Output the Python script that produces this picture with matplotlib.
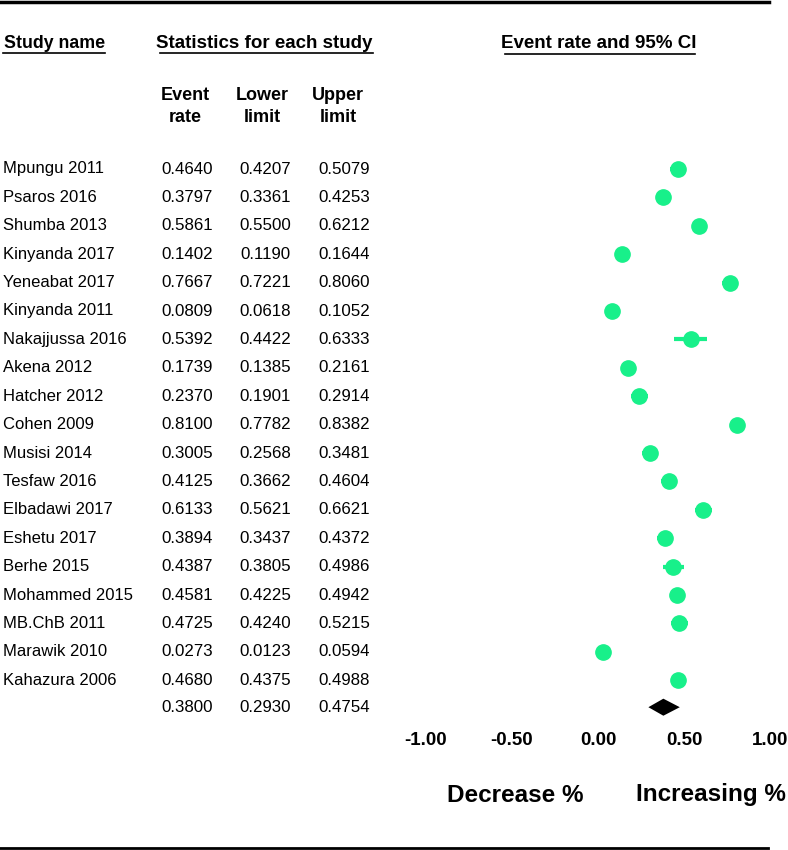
import matplotlib
matplotlib.use('Agg')
import matplotlib.pyplot as plt
import matplotlib.transforms as mtransforms
from matplotlib.lines import Line2D
import numpy as np

# Data
# ----------------------------------------------------------------------------

studies = ['Mpungu 2011', 'Psaros 2016', 'Shumba 2013', 'Kinyanda 2017',
           'Yeneabat 2017', 'Kinyanda 2011', 'Nakajjussa 2016', 'Akena 2012',
           'Hatcher 2012', 'Cohen 2009', 'Musisi 2014', 'Tesfaw 2016',
           'Elbadawi 2017', 'Eshetu 2017', 'Berhe 2015', 'Mohammed 2015',
           'MB.ChB 2011', 'Marawik 2010', 'Kahazura 2006']
rate = np.array([0.4640, 0.3797, 0.5861, 0.1402, 0.7667, 0.0809, 0.5392,
                 0.1739, 0.2370, 0.8100, 0.3005, 0.4125, 0.6133, 0.3894,
                 0.4387, 0.4581, 0.4725, 0.0273, 0.4680])
lower = np.array([0.4207, 0.3361, 0.5500, 0.1190, 0.7221, 0.0618, 0.4422,
                  0.1385, 0.1901, 0.7782, 0.2568, 0.3662, 0.5621, 0.3437,
                  0.3805, 0.4225, 0.4240, 0.0123, 0.4375])
upper = np.array([0.5079, 0.4253, 0.6212, 0.1644, 0.8060, 0.1052, 0.6333,
                  0.2161, 0.2914, 0.8382, 0.3481, 0.4604, 0.6621, 0.4372,
                  0.4986, 0.4942, 0.5215, 0.0594, 0.4988])
pooled = (0.3800, 0.2930, 0.4754)
x_ticks = [-1.00, -0.50, 0.00, 0.50, 1.00]

# Layout (pixels of the 788x850 picture)
# ----------------------------------------------------------------------------

W, H = 788, 850
row0, drow = 169, 28.4          # first study row and row spacing [px]
x0, dx = 598, 172               # pixel of 0.00 and pixels per unit
green = '#18F08A'

plt.rcParams['font.family'] = ['Liberation Sans', 'DejaVu Sans']

fig = plt.figure(figsize=(W / 100, H / 100), dpi=100)
ax = fig.add_axes([400 / W, (H - 725) / H, 388 / W, 725 / H])
ax.set_xlim((400 - x0) / dx, (W - x0) / dx)
ax.set_ylim((725 - row0) / drow, -row0 / drow)

rows = np.arange(len(studies))
pooled_row = rows[-1] + 27 / drow

# forest plot
ax.errorbar(rate, rows, xerr=[rate - lower, upper - rate], fmt='o',
            color=green, ms=11, elinewidth=3, capsize=0)
est, lo, hi = pooled
ax.fill([lo, est, hi, est],
        [pooled_row, pooled_row - 0.3, pooled_row, pooled_row + 0.3],
        color='black', lw=0)

ax.set_xticks(x_ticks, [f'{t:.2f}' for t in x_ticks],
              fontsize=13.5, fontweight='bold')
ax.set_yticks([])
ax.tick_params(axis='x', length=0, pad=5)
for s in ax.spines.values():
    s.set_visible(False)

# table
trans = mtransforms.blended_transform_factory(fig.transFigure, ax.transData)
for i, name in enumerate(studies):
    fig.text(3 / W, i, name, transform=trans, ha='left', va='center',
             fontsize=12)
for i in range(len(studies)):
    for xc, vals in zip([187, 265, 344], [rate, lower, upper]):
        fig.text(xc / W, i, f'{vals[i]:.4f}', transform=trans,
                 ha='center', va='center', fontsize=12.2)
for xc, v in zip([187, 265, 344], pooled):
    fig.text(xc / W, pooled_row, f'{v:.4f}', transform=trans,
             ha='center', va='center', fontsize=12.2)


def ftext(x, y, s, **kw):
    fig.text(x / W, 1 - y / H, s, va='center', **kw)


def hline(x1, x2, y, lw):
    fig.add_artist(Line2D([x1 / W, x2 / W], [1 - y / H, 1 - y / H],
                          color='black', lw=lw, transform=fig.transFigure))


# headers
ftext(4, 43, 'Study name', ha='left', fontsize=12.8, fontweight='bold')
ftext(156, 43, 'Statistics for each study', ha='left', fontsize=13.5,
      fontweight='bold')
ftext(599, 43, 'Event rate and 95% CI', ha='center', fontsize=13.5,
      fontweight='bold')
hline(3, 105, 53, 1.2)
hline(160, 373, 53, 1.2)
hline(505, 695, 54, 1.2)

for xc, top, bot in [(185, 'Event', 'rate'), (262, 'Lower', 'limit'),
                     (338, 'Upper', 'limit')]:
    ftext(xc, 95, top, ha='center', fontsize=13, fontweight='bold')
    ftext(xc, 118, bot, ha='center', fontsize=13, fontweight='bold')

ftext(515, 795, 'Decrease %', ha='center', fontsize=17.5, fontweight='bold')
ftext(711, 795, 'Increasing %', ha='center', fontsize=17.5, fontweight='bold')

# frame lines
hline(0, 769, 1.5, 2.5)
hline(0, 768, 848, 2)

fig.savefig('out.png', dpi=100)
